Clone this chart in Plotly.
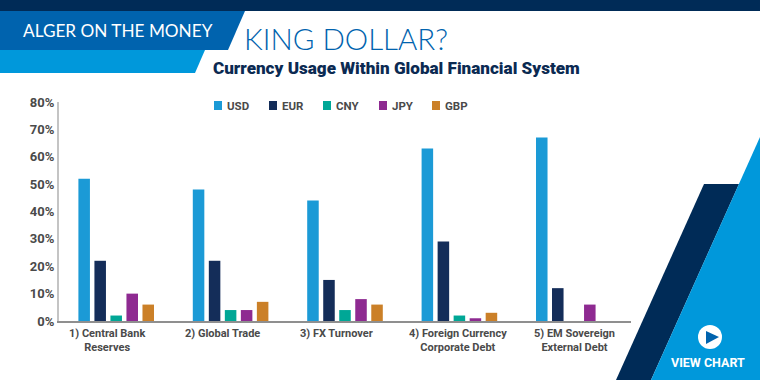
import plotly.graph_objects as go

categories = ["1) Central Bank Reserves", "2) Global Trade", "3) FX Turnover",
              "4) Foreign Currency Corporate Debt", "5) EM Sovereign External Debt"]
category_lines = ["1) Central Bank<br>Reserves", "2) Global Trade", "3) FX Turnover",
                  "4) Foreign Currency<br>Corporate Debt", "5) EM Sovereign<br>External Debt"]
label_shift = [-9, -8, -9, -1, 1]
usd = [52, 48, 44, 63, 67]
eur = [22, 22, 15, 29, 12]
cny = [2, 4, 4, 2, None]
jpy = [10, 4, 8, 1, 6]
gbp = [6, 7, 6, 3, None]
series_names = ["USD", "EUR", "CNY", "JPY", "GBP"]
series_values = [usd, eur, cny, jpy, gbp]
series_colors = ["#1B9AD6", "#142D59", "#00A796", "#8E2A91", "#CB8028"]
legend_swatch_x = [214, 269, 323, 379, 432]
y_ticks = [0, 10, 20, 30, 40, 50, 60, 70, 80]
y_labels = ["0%", "10%", "20%", "30%", "40%", "50%", "60%", "70%", "80%"]

W, H = 760, 380
L, R, T, B = 59, 631, 102, 321
NAVY, BLUE, SKY = "#002B57", "#0063AE", "#0098DB"
LABEL = "#4a4a4a"
COND = "Roboto"


def px(x):
    return (x - L) / (R - L)


def py(y):
    return (B - y) / (B - T)


def poly(points, color, layer="below"):
    path = "M" + " L".join(f"{px(x):.5f},{py(y):.5f}" for x, y in points) + " Z"
    return dict(type="path", xref="paper", yref="paper", path=path,
                fillcolor=color, line_width=0, layer=layer)


fig = go.Figure()
for name, vals, col in zip(series_names, series_values, series_colors):
    fig.add_trace(go.Bar(name=name, x=categories, y=vals, marker_color=col, marker_line_width=0))

shapes = [
    poly([(0, 0), (760, 0), (760, 11), (0, 11)], NAVY),
    poly([(0, 11), (245, 11), (228, 50), (0, 50)], BLUE),
    poly([(0, 50), (205, 50), (195, 73), (0, 73)], SKY),
    poly([(704, 184), (739, 184), (651, 380), (616, 380)], NAVY),
    poly([(760, 137), (760, 380), (651, 380)], SKY),
    dict(type="circle", xref="paper", yref="paper", x0=px(698), x1=px(722), y0=py(349), y1=py(325),
         fillcolor="white", line_width=0, layer="above"),
    poly([(706, 331), (719, 337), (706, 344)], BLUE, "above"),
]


def txt(x, y, text, size, color, family, anchor="left"):
    return dict(xref="paper", yref="paper", x=px(x), y=py(y), text=text, showarrow=False,
                xanchor=anchor, yanchor="middle", font=dict(size=size, color=color, family=family))


ann = [
    txt(21, 30, "ALGER ON THE MONEY", 17.2, "white", "Lato"),
    txt(242, 39, "KING DOLLAR?", 29.5, BLUE, "Lato Light, Lato"),
    txt(211, 68, "Currency Usage Within Global Financial System", 17.1, "#0B2A52", "Roboto Black, Roboto"),
    txt(708, 362, "<b>VIEW CHART</b>", 12.5, "white", "Roboto", "center"),
]
for c, lab, sh in zip(categories, category_lines, label_shift):
    ann.append(dict(xref="x", yref="paper", x=c, y=py(325), yanchor="top", xanchor="center", xshift=sh,
                    text=f"<b>{lab}</b>", showarrow=False,
                    font=dict(size=11, color=LABEL, family=COND)))
for name, col, sx in zip(series_names, series_colors, legend_swatch_x):
    shapes.append(dict(type="rect", xref="paper", yref="paper", x0=px(sx), x1=px(sx + 8),
                       y0=py(110), y1=py(101), fillcolor=col, line_width=0))
    ann.append(txt(sx + 11, 106, f"<b>{name}</b>", 11.5, LABEL, COND))

fig.update_layout(
    width=W, height=H, autosize=False,
    margin=dict(l=L, r=W - R, t=T, b=H - B, pad=0),
    paper_bgcolor="white", plot_bgcolor="white",
    barmode="group", bargap=0.30, bargroupgap=0.28,
    shapes=shapes, annotations=ann,
    showlegend=False,
    xaxis=dict(type="category", showticklabels=False, ticks="", showline=True, linecolor="#8f8f8f",
               linewidth=2, showgrid=False, zeroline=False),
    yaxis=dict(range=[0, 80], tickvals=y_ticks, ticktext=y_labels, ticks="", showgrid=False, zeroline=False,
               showline=True, linecolor="#c4c4c4", linewidth=2,
               tickfont=dict(size=13, color=LABEL, family=COND, weight="bold")),
)
fig.write_html("out.html", config=dict(displayModeBar=False),
               post_script="document.body.style.margin='0';document.body.style.overflow='hidden';")
